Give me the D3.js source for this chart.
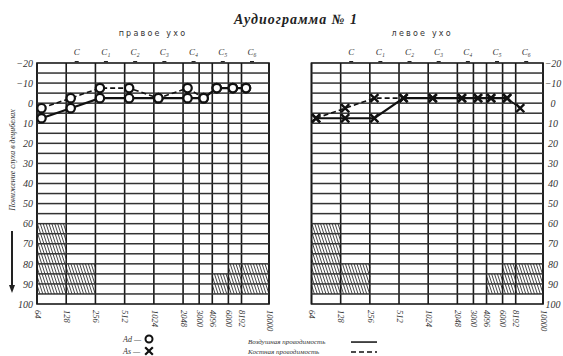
<!DOCTYPE html>
<html><head><meta charset="utf-8">
<script src="https://cdn.jsdelivr.net/npm/d3@7"></script>
<style>
html,body{margin:0;padding:0;background:#fff;}
svg text{font-family:"Liberation Serif","DejaVu Serif",serif;fill:#333;}
</style></head>
<body>
<svg id="c" width="563" height="356"></svg>
<script>
// ---- data ----
const freqTicks = [64,128,256,512,1024,2048,3000,4096,6000,8192,10000];
const dbTicks = [-20,-10,0,10,20,30,40,50,60,70,80,90,100];
const gridDb = [-15,-10,-5,0,5,10,15,20,25,30,35,40,45,50,55,60,65,70,75,80,85,90,95];
const noteLabels = ["C","C₁","C₂","C₃","C₄","C₅","C₆"];
const noteFreqs = [128,256,512,1024,2048,4096,8192];
const measuredFreqs = [64,128,256,512,1024,2048,3000,4096,6000,8192];
const rightAir  = [7.5,2.5,-2.5,-2.5,-2.5,-2.5,-2.5,-7.5,-7.5,-7.5];
const rightBone = [2.5,-2.5,-7.5,-7.5,-2.5,-7.5,-2.5,-7.5,-7.5,-7.5];
const leftAir   = [7.5,7.5,7.5,-2.5,-2.5,-2.5,-2.5,-2.5,-2.5,null];
const leftBone  = [7.5,2.5,-2.5,-2.5,-2.5,-2.5,-2.5,-2.5,-2.5,2.5];
const hatchF0 = [64,128,4096,6000];
const hatchF1 = [128,256,6000,10000];
const hatchTop = [60,80,85,80];
const hatchBottom = 95;
const panelTitles = ["правое ухо","левое ухо"];
const title = "Аудиограмма № 1";
const yTitle = "Понижение слуха в децибелах";

const svg = d3.select("#c");
const y = d3.scaleLinear().domain([-20,100]).range([63,304]);

svg.append("text").attr("x",296).attr("y",24).attr("text-anchor","middle")
  .style("font-weight","bold").style("font-style","italic").style("font-size","14px")
  .style("letter-spacing","1px").style("fill","#222").text(title);

const panelXL = [37, 311.5];
const panelXR = [269, 543];
const panelX8192 = [241.5, 515.7];
const xScales = panelXL.map((xl,i)=>d3.scaleLog().domain([64,8192,10000]).range([xl,panelX8192[i],panelXR[i]]));

function hatchPath(x0,x1,yt,yb){
  const h = yb-yt, dx = h*Math.tan(18*Math.PI/180), step = 2.9;
  let d = "";
  for(let u = x0-dx; u < x1; u += step){
    const t0 = Math.max(0,(x0-u)/dx), t1 = Math.min(1,(x1-u)/dx);
    if(t1>t0) d += `M${u+t0*dx},${yt+t0*h}L${u+t1*dx},${yt+t1*h}`;
  }
  return d;
}

const seriesGroups = [];
function panel(idx, air, bone, marker){
  const x = xScales[idx];
  const xl = panelXL[idx], xr = panelXR[idx];
  const g = svg.append("g");
  g.append("g").selectAll("path").data(hatchF0).join("path")
    .attr("d",(d,i)=>hatchPath(x(d),x(hatchF1[i]),y(hatchTop[i]),y(hatchBottom)))
    .attr("fill","none").attr("stroke","#333").attr("stroke-width",0.9);
  g.selectAll("rect.vg").data(freqTicks).join("rect").attr("class","vg")
    .attr("x",d=>x(d)-0.8).attr("width",1.6).attr("y",y(-20)).attr("height",y(100)-y(-20))
    .attr("fill","#1a1a1a");
  g.append("rect").attr("x",xl).attr("y",y(-20)).attr("width",xr-xl).attr("height",y(100)-y(-20))
    .attr("fill","none").attr("stroke","#1a1a1a").attr("stroke-width",1.6);
  g.selectAll("text.n").data(noteFreqs).join("text").attr("class","n")
    .attr("x",d=>x(d)+10.5).attr("y",55).attr("text-anchor","middle")
    .style("font-style","italic").style("font-size","9px").text((d,i)=>noteLabels[i]);
  g.selectAll("rect.nt").data(noteFreqs).join("rect").attr("class","nt")
    .attr("x",d=>x(d)+8.5).attr("width",4).attr("y",y(-20)-2).attr("height",1.2).attr("fill","#222");
  g.append("text").attr("x",(xl+xr)/2+(idx?-5:0)).attr("y",36).attr("text-anchor","middle")
    .style("font-size","8px").style("letter-spacing","2.2px").style("font-family","DejaVu Sans")
    .text(panelTitles[idx]);
  const ax = g.append("g").attr("transform",`translate(0,${y(100)+6})`)
    .call(d3.axisBottom(x).tickValues(freqTicks).tickFormat(d3.format("d")).tickSize(0));
  ax.select(".domain").remove();
  ax.selectAll("text").attr("transform","rotate(90)").attr("x",0).attr("y",0).attr("dy","0.32em")
    .attr("text-anchor","start").style("font-style","italic").style("font-size","8.5px")
    .style("font-family","Liberation Serif").attr("fill","#333");
  const s = svg.append("g").attr("transform","translate(4.5,0)");
  seriesGroups.push(s);
  const pts = (arr)=>measuredFreqs.map((f,i)=>({f,v:arr[i]})).filter(d=>d.v!=null);
  const lineGen = d3.line().x(d=>x(d.f)).y(d=>y(d.v));
  s.append("path").datum(pts(bone)).attr("d",lineGen).attr("fill","none")
    .attr("stroke","#111").attr("stroke-width",1.6).attr("stroke-dasharray","5,3");
  s.append("path").datum(pts(air)).attr("d",lineGen).attr("fill","none")
    .attr("stroke","#111").attr("stroke-width",2.2);
  const all = pts(bone).concat(pts(air));
  if(marker==="o"){
    s.selectAll("circle").data(all).join("circle").attr("cx",d=>x(d.f)).attr("cy",d=>y(d.v))
      .attr("r",4.2).attr("fill","#fff").attr("stroke","#111").attr("stroke-width",2.2);
  } else {
    s.selectAll("path.x").data(all).join("path").attr("class","x")
      .attr("d",d3.symbol(d3.symbolX,45)).attr("transform",d=>`translate(${x(d.f)},${y(d.v)})`)
      .attr("fill","none").attr("stroke","#111").attr("stroke-width",2.4);
  }
}
panel(0, rightAir, rightBone, "o");
panel(1, leftAir, leftBone, "x");

const ly = svg.append("g").attr("transform","translate(33,0)")
  .call(d3.axisLeft(y).tickValues(dbTicks).tickSize(0).tickFormat(d=>d<0?"−"+(-d):d));
ly.select(".domain").remove();
ly.selectAll("text").attr("x",0).style("font-style","italic").style("font-size","10px")
  .style("font-family","Liberation Serif").attr("fill","#444");
const ryAx = svg.append("g").attr("transform","translate(553,0)")
  .call(d3.axisRight(y).tickValues(dbTicks).tickSize(0).tickFormat(d=>d<0?"−"+(-d):d));
ryAx.select(".domain").remove();
ryAx.selectAll("text").attr("x",0).attr("text-anchor","middle").style("font-style","italic").style("font-size","10px")
  .style("font-family","Liberation Serif").attr("fill","#444");

svg.append("text").attr("transform","translate(15,160) rotate(-90)").attr("text-anchor","middle")
  .style("font-style","italic").style("font-size","8px").style("font-family","Liberation Serif")
  .text(yTitle);
svg.append("rect").attr("x",11).attr("y",231).attr("width",2).attr("height",55).attr("fill","#222");
svg.append("path").attr("d","M9,285 L15,285 L12,293 Z").attr("fill","#222");

const lg = svg.append("g");
lg.append("text").attr("x",123).attr("y",342).style("font-style","italic").style("font-size","8px").text("Ad —");
lg.append("text").attr("x",123).attr("y",354).style("font-style","italic").style("font-size","8px").text("As —");
lg.append("circle").attr("cx",149).attr("cy",339).attr("r",3.5).attr("fill","#fff").attr("stroke","#111").attr("stroke-width",2);
lg.append("path").attr("d",d3.symbol(d3.symbolX,40)).attr("transform","translate(149,351)")
  .attr("fill","none").attr("stroke","#111").attr("stroke-width",2.2);
lg.append("text").attr("x",248).attr("y",344).style("font-style","italic").style("font-size","7px").text("Воздушная проводимость");
lg.append("text").attr("x",248).attr("y",354).style("font-style","italic").style("font-size","7px").text("Костная проводимость");
lg.append("rect").attr("x",351).attr("y",341.3).attr("width",26).attr("height",1.5).attr("fill","#111");
lg.append("path").attr("d","M351,352H377").attr("stroke","#111").attr("stroke-width",1.5).attr("stroke-dasharray","5,3");

// horizontal grid drawn late, then series raised above it
const hg = svg.append("g");
[0,1].forEach(p=>{
  hg.append("g").selectAll("rect").data(gridDb).join("rect")
    .attr("x",panelXL[p]).attr("width",panelXR[p]-panelXL[p])
    .attr("y",d=>y(d)-0.75).attr("height",1.5).attr("fill","#333");
});
seriesGroups.forEach(s=>s.raise());
</script>
</body></html>
